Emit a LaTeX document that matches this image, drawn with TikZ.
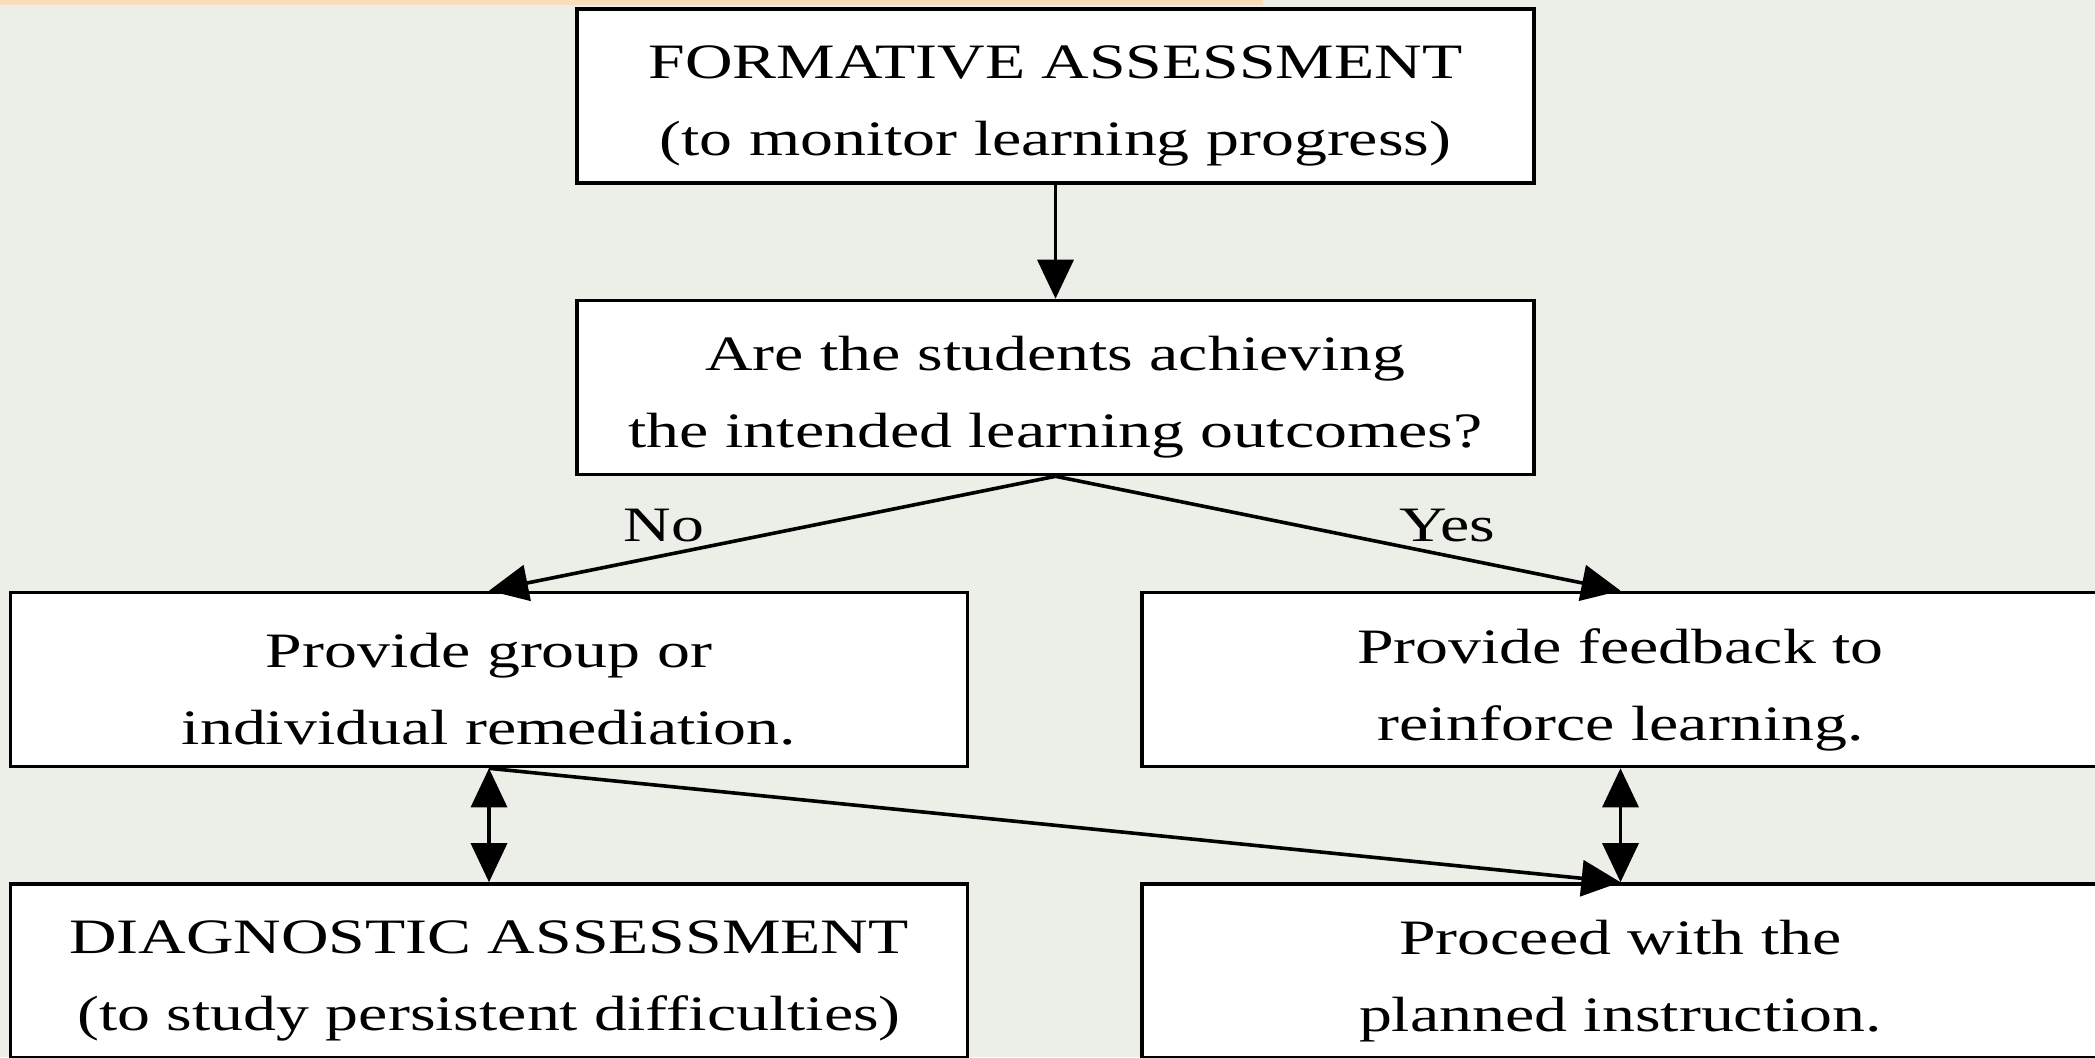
\documentclass[tikz,border=0pt]{standalone}
\usepackage{fontspec}
\setmainfont[FakeStretch=1.33]{Liberation Serif}
\usetikzlibrary{arrows.meta}
\definecolor{bgc}{RGB}{236,239,232}
\definecolor{topband}{RGB}{250,222,188}
\begin{document}
\begin{tikzpicture}[x=1pt,y=-1pt,
  txt/.style={font=\fontsize{49.5}{77}\selectfont},
  boxtxt/.style={txt, align=center, inner sep=0pt, yshift=-10pt},
  box/.style={draw=black, line width=3.6pt, fill=white, minimum width=957pt, minimum height=174pt, inner sep=0pt},
  conn/.style={line width=3.6pt, -{Triangle[length=39pt,width=36pt]}},
  dconn/.style={line width=3.3pt, {Triangle[length=39pt,width=36pt]}-{Triangle[length=39pt,width=36pt]}}]
\fill[bgc] (0,0) rectangle (2095,1057);
\useasboundingbox (0,0) rectangle (2095,1057);
\fill[topband] (0,0) rectangle (1263,5);

\node[box] (f1) at (1055.5,96) {};
\node[box] (q) at (1055.5,387.5) {};
\node[box] (rem) at (489,679.5) {};
\node[box] (fb) at (1620.5,679.5) {};
\node[box] (diag) at (489,971) {};
\node[box] (proc) at (1620.5,971) {};

\node[boxtxt] (f1t) at (f1.center) {FORMATIVE ASSESSMENT\\(to monitor learning progress)};
\node[boxtxt] (qt) at (q.center) {Are the students achieving\\the intended learning outcomes?};
\node[boxtxt] (remt) at (rem.center) {Provide group or\\individual remediation.};
\node[boxtxt] (fbt) at (fb.center) {Provide feedback to\\reinforce learning.};
\node[boxtxt] (diagt) at (diag.center) {DIAGNOSTIC ASSESSMENT\\(to study persistent difficulties)};
\node[boxtxt] (proct) at (proc.center) {Proceed with the\\planned instruction.};

\draw[conn] (f1.south) -- (q.north);
\draw[conn] (q.south) -- (rem.north);
\draw[conn] (q.south) -- (fb.north);
\draw[dconn] (rem.south) -- (diag.north);
\draw[dconn] (fb.south) -- (proc.north);
\draw[conn] (rem.south) -- (proc.north);

\node[txt] (no) at (664,526) {No};
\node[txt] (yes) at (1447,526) {Yes};
\end{tikzpicture}
\end{document}
